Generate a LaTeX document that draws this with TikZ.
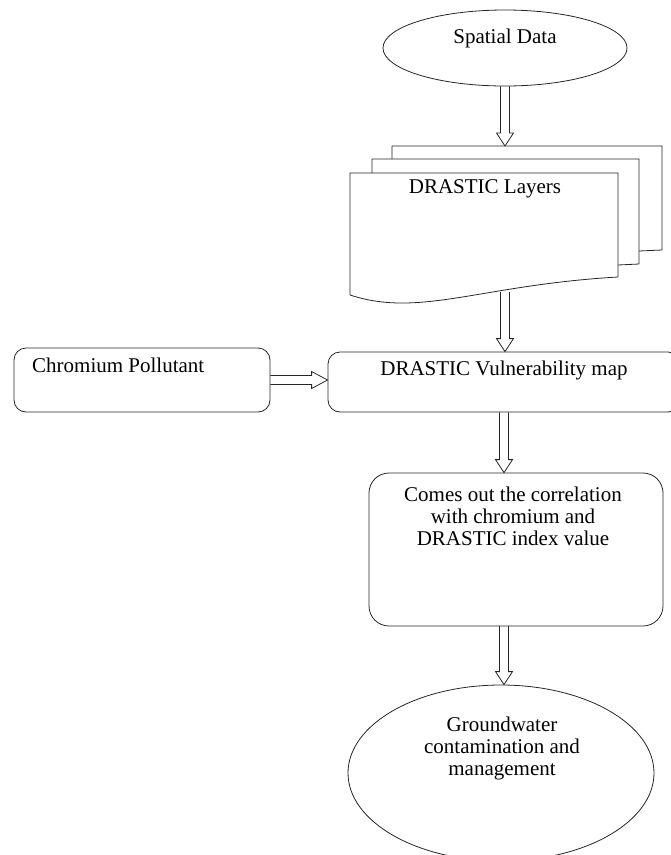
\documentclass[tikz,border=0pt]{standalone}
\usepackage{fontspec}
\setmainfont{Liberation Serif}
\usetikzlibrary{shapes.geometric,calc}
\tikzset{
  ln/.style={draw=black!85, line width=0.8pt},
  txt/.style={font=\fontsize{21}{22}\selectfont, inner sep=0pt, align=center},
  rbox/.style={ln, rectangle, rounded corners=#1, inner sep=0pt},
  ell/.style={ln, ellipse, inner sep=0pt},
  barrow/.style={ln, line join=miter}
}
\newcommand\bdown[2]{\draw[barrow] let \p1=(#1), \p2=(#2) in
  (\x1-4.5pt,\y1) -- (\x1-4.5pt,\y2+13pt) -- (\x1-8.5pt,\y2+13pt) -- (\x1,\y2)
  -- (\x1+8.5pt,\y2+13pt) -- (\x1+4.5pt,\y2+13pt) -- (\x1+4.5pt,\y1);}
\newcommand\bright[2]{\draw[barrow] let \p1=(#1), \p2=(#2) in
  (\x1,\y1+4.5pt) -- (\x2-16pt,\y1+4.5pt) -- (\x2-16pt,\y1+8.5pt) -- (\x2,\y1)
  -- (\x2-16pt,\y1-8.5pt) -- (\x2-16pt,\y1-4.5pt) -- (\x1,\y1-4.5pt);}
\begin{document}
\begin{tikzpicture}[x=1pt,y=-1pt]
\useasboundingbox (0,0) rectangle (671,855);
% Spatial Data
\node[ell, minimum width=244pt, minimum height=76pt] (sd) at (505,48) {};
\node[txt, anchor=base] (sdt) at (505,43) {Spatial Data};
% DRASTIC Layers stacked document
\draw[ln] (392,159) -- (392,146) -- (662,146) -- (662,250) -- (639,251);
\draw[ln] (372,173) -- (372,159) -- (639,159) -- (639,264) -- (618,265);
\draw[ln] (350,295) -- (350,173) -- (618,173) -- (618,277)
  .. controls (480,285) and (420,318) .. (350,295);
\coordinate (dtop) at (505,146);
\coordinate (dbot) at (505,292);
\node[txt, anchor=base] (dlt) at (485,193) {DRASTIC Layers};
% Chromium Pollutant
\node[rbox=12pt, minimum width=256pt, minimum height=64pt] (cp) at (142,380) {};
\node[txt, anchor=base west] (cpt) at (32,372) {Chromium Pollutant};
% Vulnerability map
\node[rbox=12pt, minimum width=352pt, minimum height=60pt] (vm) at (504,382) {};
\node[txt, anchor=base] (vmt) at (504,375) {DRASTIC Vulnerability map};
% Correlation
\node[rbox=20pt, minimum width=294pt, minimum height=153pt] (cr) at (516,549.5) {};
\coordinate (crbot) at (504,626);
\node[txt] (crt) at (513,516) {Comes out the correlation\\with chromium and\\DRASTIC index value};
% Groundwater
\node[ell, minimum width=306pt, minimum height=176pt] (gw) at (501,773) {};
\node[txt] (gwt) at (502,748.5) {Groundwater\\contamination and\\management};
% arrows
\bdown{sd.south}{dtop}
\bdown{dbot}{vm.north}
\bdown{vm.south}{cr.north}
\bdown{crbot}{gw.north}
\bright{cp.east}{vm.west}
\end{tikzpicture}
\end{document}
